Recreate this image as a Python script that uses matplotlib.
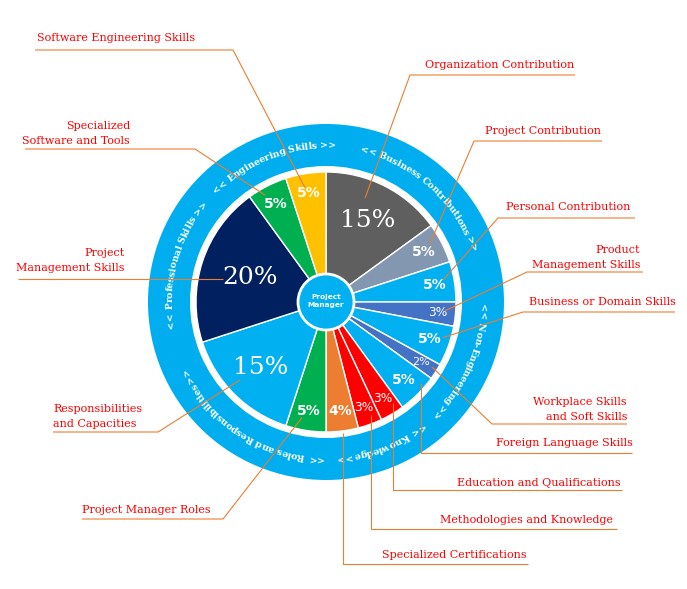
import numpy as np
import matplotlib
matplotlib.use("Agg")
import matplotlib.pyplot as plt
from matplotlib.patches import Wedge, Circle
from matplotlib.font_manager import FontProperties
from matplotlib.textpath import TextToPath

W, H, DPI = 687, 589, 100
CX, CY = 326, H - 302          # pie centre (pixel units, y up)
R_PIE, R_RING_OUT, R_RING_IN = 130, 178, 136

# slices, clockwise from 12 o'clock
SLICE_NAMES = [
    "Organization Contribution", "Project Contribution", "Personal Contribution",
    "Product\nManagement Skills", "Business or Domain Skills",
    "Workplace Skills\nand Soft Skills", "Foreign Language Skills",
    "Education and Qualifications", "Methodologies and Knowledge",
    "Specialized Certifications", "Project Manager Roles",
    "Responsibilities\nand Capacities", "Project\nManagement Skills",
    "Specialized\nSoftware and Tools", "Software Engineering Skills",
]
SLICE_VALUES = [15, 5, 5, 3, 5, 2, 5, 3, 3, 4, 5, 15, 20, 5, 5]
SLICE_COLORS = [
    "#5f5f5f", "#8497b0", "#00b0f0", "#4472c4", "#00b0f0", "#4472c4",
    "#00b0f0", "#ff0000", "#ff0000", "#ed7d31", "#00b050", "#00b0f0",
    "#002060", "#00b050", "#ffc000",
]

# ring groups (number of consecutive slices in each)
GROUP_NAMES = ["Business Contributions", "Non-Engineering", "Knowledge",
               "Roles and Responsibilities", "Professional Skills",
               "Engineering Skills"]
GROUP_SIZES = [3, 4, 3, 2, 1, 2]

# callout layout in image pixels: text x, first line y, align, underline y,
# elbow x (None -> vertical drop from the anchor), far end x
CALLOUTS = [
    (425, 65, "left", 75, 410, 575),
    (485, 131, "left", 141, 474, 602),
    (506, 207, "left", 218, 498, 635),
    (640, 250, "right", 272, 527, 643),
    (529, 302, "left", 312, 523, 675),
    (627, 402, "right", 424, 492, 627),
    (496, 443, "left", 453, None, 632),
    (457, 483, "left", 490, None, 622),
    (440, 520, "left", 529, None, 617),
    (382, 555, "left", 564, None, 528),
    (82, 510, "left", 519, 223, 82),
    (53, 409, "left", 432, 158, 53),
    (125, 253, "right", 279, None, 18),
    (130, 126, "right", 149, 195, 25),
    (37, 38, "left", 50, 233, 35),
]
# where each leader touches its slice: radius, angle offset from mid-angle
ANCHOR_R = [111, 120, 119, 119, 122, 124, 125, 121, 122, 132, 118, 116, 106, 123, 116]
ANCHOR_DA = [6.4, 2.6, 1.6, 1.1, 2.8, 0.9, 4.5, 3.0, 1.9, 0.2, -2.7, -2.8, 5.5, 2.7, 1.4]

LEADER = "#ed7d31"
RED = "#ff0000"

ttp = TextToPath()


def advance(s, fp):
    bar = ttp.get_text_width_height_descent("|", fp, ismath=False)[0]
    w = ttp.get_text_width_height_descent(s + "|", fp, ismath=False)[0]
    return (w - bar) * DPI / 72.0


def curved_text(ax, s, theta_c, r, fp, color="white"):
    """Text running clockwise along a circle, glyph tops pointing outward."""
    total = advance(s, fp)
    cap = ttp.get_text_width_height_descent("H", fp, ismath=False)[1] * DPI / 72.0
    rb = r - cap / 2
    for i, ch in enumerate(s):
        if ch == " ":
            continue
        c = (advance(s[:i], fp) + advance(s[:i + 1], fp)) / 2
        th = theta_c + np.degrees((total / 2 - c) / r)
        t = np.radians(th)
        ax.text(CX + rb * np.cos(t), CY + rb * np.sin(t), ch,
                fontproperties=fp, color=color, rotation=th - 90,
                rotation_mode="anchor", ha="center", va="baseline", zorder=6)


fig = plt.figure(figsize=(W / DPI, H / DPI), dpi=DPI)
ax = fig.add_axes([0, 0, 1, 1])

ax.add_patch(Wedge((CX, CY), R_RING_OUT, 0, 360, width=R_RING_OUT - R_RING_IN,
                   facecolor="#00aeef", edgecolor="none", zorder=1))

ax.pie(SLICE_VALUES, colors=SLICE_COLORS, startangle=90, counterclock=False,
       radius=R_PIE, center=(CX, CY),
       wedgeprops=dict(edgecolor="white", linewidth=1.0, zorder=2))

ax.add_patch(Circle((CX, CY), 28, facecolor="#00b0f0", edgecolor="white",
                    linewidth=2, zorder=4))
ax.text(CX, CY + 1, "Project\nManager", ha="center", va="center", color="white",
        fontsize=5.3, fontweight="bold", linespacing=1.5, zorder=5)

vals = np.array(SLICE_VALUES, dtype=float)
ends = 90 - 360 * np.cumsum(vals) / vals.sum()
starts = ends + 360 * vals / vals.sum()
mids = (starts + ends) / 2

# percentage labels
for v, m in zip(SLICE_VALUES, mids):
    t = np.radians(m)
    if v >= 15:
        r = 80 if v >= 20 else 92
        kw = dict(fontsize=18, family="DejaVu Serif")
    elif v >= 4:
        r = 110
        kw = dict(fontsize=10, fontweight="bold")
    else:
        r = 112
        kw = dict(fontsize=8 if v < 3 else 8.8)
    ax.text(CX + r * np.cos(t), CY + r * np.sin(t), f"{v}%", color="white",
            ha="center", va="center", zorder=5, **kw)

# ring captions
fp_ring = FontProperties(family="DejaVu Serif", weight="bold", size=6.7)
i0 = 0
for name, n in zip(GROUP_NAMES, GROUP_SIZES):
    g_start, g_end = starts[i0], ends[i0 + n - 1]
    curved_text(ax, f"<< {name} >>", (g_start + g_end) / 2 + 3,
                (R_RING_OUT + R_RING_IN) / 2, fp_ring)
    i0 += n

# callouts with leader lines
for name, m, lay, ar, da in zip(SLICE_NAMES, mids, CALLOUTS, ANCHOR_R, ANCHOR_DA):
    tx, ty, ha, uy, near, far = lay
    t = np.radians(m + da)
    axp, ayp = CX + ar * np.cos(t), CY + ar * np.sin(t)
    elbow = axp if near is None else near
    ax.plot([far, elbow, axp], [H - uy, H - uy, ayp], color=LEADER,
            linewidth=0.8, zorder=7, solid_capstyle="butt")
    for k, line in enumerate(name.split("\n")):
        ax.text(tx, H - (ty + 15 * k), line, ha=ha, va="center", color=RED,
                fontsize=8, family="DejaVu Serif", zorder=8)

ax.set_xlim(0, W)
ax.set_ylim(0, H)
ax.set_aspect("auto")
ax.axis("off")
fig.savefig("out.png", dpi=DPI)
